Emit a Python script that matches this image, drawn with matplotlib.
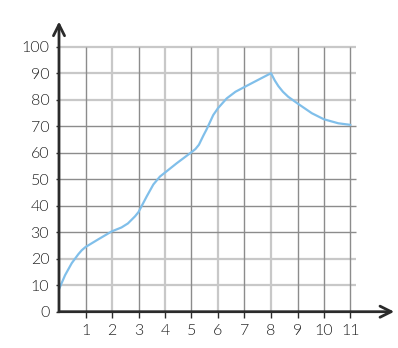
import matplotlib
matplotlib.use("Agg")
import matplotlib.pyplot as plt

# data
curve_x = [0, 0.23, 0.48, 0.73, 0.86, 1.0, 1.48, 1.99, 2.36, 2.6, 2.87, 3.0, 3.31, 3.56, 3.81,
           4.0, 4.44, 5.0, 5.15, 5.28, 5.45, 5.57, 5.82, 6.0, 6.33, 6.66, 7.0, 7.46, 8.0,
           8.14, 8.28, 8.45, 8.65, 9.0, 9.54, 10.0, 10.54, 11.0]
curve_y = [8.5, 13.8, 18.3, 21.7, 23.2, 24.4, 27.3, 30.3, 31.8, 33.3, 36, 37.6, 43.5, 48, 51,
           52.5, 56, 60.2, 61.4, 63, 66.5, 68.8, 74.2, 76.8, 80.5, 83, 84.8, 87.2, 90,
           87.3, 85.1, 83, 81.1, 78.6, 74.9, 72.6, 71.1, 70.5]
x_ticks = [1, 2, 3, 4, 5, 6, 7, 8, 9, 10, 11]
x_labels = ["1", "2", "3", "4", "5", "6", "7", "8", "9", "10", "11"]
y_ticks = [0, 10, 20, 30, 40, 50, 60, 70, 80, 90, 100]
y_labels = ["0", "10", "20", "30", "40", "50", "60", "70", "80", "90", "100"]
light_x = [2, 4, 6, 8]
dark_x = [1, 3, 5, 7, 9, 10, 11]
light_y = [10, 20, 80, 90, 100]
dark_y = [30, 40, 50, 60, 70]

W, H = 398, 348
fig = plt.figure(figsize=(W / 100, H / 100), dpi=100)
ux, uy = 26.5, 2.65
x0p, y0p = 59, 348 - 311.7
xmax, ymax = 12.6, 110
ax = fig.add_axes([x0p / W, y0p / H, xmax * ux / W, ymax * uy / H])
ax.set_xlim(0, xmax)
ax.set_ylim(0, ymax)
for s in ax.spines.values():
    s.set_visible(False)

light = dict(color="#c8c8c8", lw=1.6, zorder=1)
dark = dict(color="#8c8c8c", lw=1.0, zorder=1.5)
ax.vlines(light_x, 0, 100, **light)
ax.vlines(dark_x, 0, 100, **dark)
ax.hlines(light_y, 0, 11.2, **light)
ax.hlines(dark_y, 0, 11.2, **dark)

ax.plot(curve_x, curve_y, color="#80bfea", lw=1.6, zorder=3,
        solid_capstyle="round", solid_joinstyle="round")

axc = "#2b2b2b"
ax.annotate("", xy=(xmax + 0.05, 0), xytext=(0, 0),
            arrowprops=dict(arrowstyle="->", lw=2, color=axc, mutation_scale=20,
                            shrinkA=0, shrinkB=0), annotation_clip=False, zorder=4)
ax.annotate("", xy=(0, ymax - 0.5), xytext=(0, 0),
            arrowprops=dict(arrowstyle="->", lw=2, color=axc, mutation_scale=20,
                            shrinkA=0, shrinkB=0), annotation_clip=False, zorder=4)

font = "Lato"
ax.set_xticks(x_ticks)
ax.set_xticklabels(x_labels, fontsize=11.5, family=font, color="#222222", fontweight=300)
ax.set_yticks(y_ticks)
ax.set_yticklabels(y_labels, fontsize=11.5, family=font, color="#222222", fontweight=300)
ax.tick_params(axis="x", direction="out", length=4, width=1, color=axc, pad=5)
ax.tick_params(axis="y", direction="out", length=2, width=1, color=axc, pad=5)

fig.savefig("out.png", dpi=100)
